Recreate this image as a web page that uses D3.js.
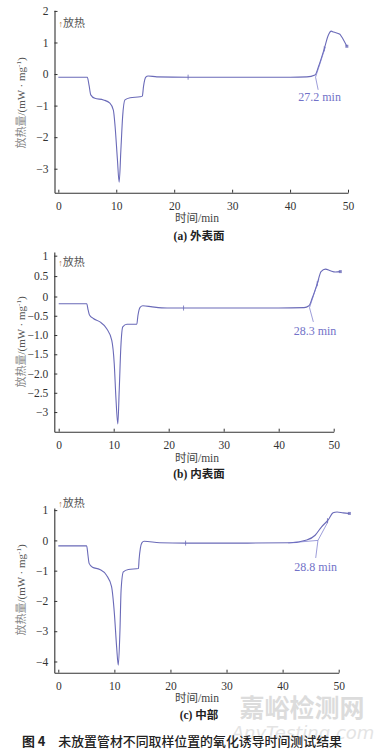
<!DOCTYPE html>
<html><head><meta charset="utf-8">
<script src="https://cdn.jsdelivr.net/npm/d3@7"></script>
<style>
html,body{margin:0;padding:0;background:#fff;}
svg{display:block;}
</style></head>
<body>
<svg id="c" width="384" height="751"></svg>
<script>
// ---- data ----
const xTicks = [0, 10, 20, 30, 40, 50];

const timeA = [0, 5.0, 5.3, 5.6, 6.3, 7.8, 8.9, 9.5, 9.8, 10.2, 10.5, 10.8, 11.1, 11.5, 12.4, 14.1, 14.5, 14.7, 15.1, 15.5, 17, 22.4, 30, 40, 42.9, 44.3, 44.9, 45.9, 46.6, 47.1, 47.5, 48.6, 48.9, 49.8];
const heatA = [-0.1, -0.1, -0.35, -0.66, -0.77, -0.82, -0.92, -1.14, -1.66, -2.71, -3.43, -2.4, -1.35, -0.82, -0.75, -0.72, -0.70, -0.4, -0.1, -0.06, -0.09, -0.1, -0.1, -0.1, -0.09, -0.03, 0.23, 0.8, 1.23, 1.36, 1.33, 1.26, 1.18, 0.88];
const yTicksA = [-3, -2, -1, 0, 1, 2];
const yLabelsA = ["−3", "−2", "−1", "0", "1", "2"];

const timeB = [0, 5.1, 5.35, 5.6, 6.3, 7.5, 8.7, 9.65, 10.1, 10.4, 10.75, 11.0, 11.3, 11.65, 12.4, 14.2, 14.4, 14.8, 15.3, 17, 19.7, 22.7, 30, 40, 44.6, 45.5, 46.1, 47.0, 47.7, 48.5, 49.4, 50.3, 51.2];
const heatB = [-0.19, -0.19, -0.35, -0.48, -0.57, -0.66, -0.83, -1.14, -1.75, -2.62, -3.31, -2.45, -1.31, -0.79, -0.72, -0.72, -0.5, -0.28, -0.24, -0.27, -0.3, -0.3, -0.3, -0.3, -0.29, -0.24, -0.04, 0.31, 0.61, 0.67, 0.63, 0.6, 0.61];
const yTicksB = [-3, -2.5, -2, -1.5, -1, -0.5, 0, 0.5, 1];
const yLabelsB = ["−3", "−2.5", "−2.0", "−1.5", "−1.0", "−0.5", "0", "0.5", "1"];

const timeC = [0, 5.06, 5.3, 5.5, 6.1, 7.4, 8.6, 9.5, 10.0, 10.4, 10.7, 11.0, 11.2, 11.6, 12.5, 14.3, 14.4, 14.9, 15.3, 18.1, 22.7, 30, 41.3, 44.3, 45.8, 46.95, 48.1, 49.0, 49.7, 50.8, 51.9];
const heatC = [-0.18, -0.18, -0.5, -0.76, -0.89, -0.96, -1.15, -1.53, -2.41, -3.51, -4.12, -2.96, -1.64, -1.04, -0.96, -0.93, -0.65, -0.08, -0.03, -0.08, -0.09, -0.09, -0.08, 0.01, 0.17, 0.45, 0.67, 0.91, 0.94, 0.91, 0.89];
const yTicksC = [-4, -3, -2, -1, 0, 1];
const yLabelsC = ["−4", "−3", "−2", "−1", "0", "1"];

// onset annotation: [onsetTime, onsetValue, tangentEndTime, tangentEndValue, leaderEndTime, leaderEndValue, labelTime, labelValue]
const onsetA = [44.4, -0.1, 46.1, 0.86, 44.85, -0.5, 45.1, -0.73];
const onsetB = [45.6, -0.29, 47.3, 0.42, 46.3, -0.66, 46.6, -0.89];
const onsetC = [46.3, 0.0, 48.1, 0.62, 45.9, -0.58, 45.9, -0.87];
const baseLineC = [41.0, -0.085];
const markTimes = { a: [22.4, 45.9], b: [22.7, 47.0], c: [22.7, 48.0] };
const onsetLabels = ["27.2 min", "28.3 min", "28.8 min"];
const panelTitles = ["(a) 外表面", "(b) 内表面", "(c) 中部"];
const figCaption = "图 4　未放置管材不同取样位置的氧化诱导时间测试结果";

// ---- drawing ----
const svg = d3.select("#c");
const serif = "\"Liberation Serif\", \"Times New Roman\", \"DejaVu Serif\", \"Noto Sans CJK SC\", serif";
const lineColor = "#6a6ab8";
const annColor = "#7272c8";

function panel(o) {
  const x = d3.scaleLinear().domain(o.xDom).range(o.xRange);
  const y = d3.scaleLinear().domain(o.yDom).range(o.yRange);
  const g = svg.append("g");
  const x0 = o.xRange[0], yBottom = o.yRange[0];

  const xAxis = d3.axisBottom(x).tickValues(xTicks).tickSizeInner(-3).tickSizeOuter(0).tickPadding(9);
  const gx = g.append("g").attr("transform", `translate(0,${yBottom})`).call(xAxis);
  const yAxis = d3.axisLeft(y).tickValues(o.yTicks).tickFormat((d, i) => o.yLabels[i]).tickSizeInner(-3).tickSizeOuter(0).tickPadding(6);
  const gy = g.append("g").attr("transform", `translate(${x0},0)`).call(yAxis);
  [gx, gy].forEach(a => {
    a.attr("font-family", null);
    a.select(".domain").attr("stroke", "#333").attr("stroke-width", 1.1);
    a.selectAll(".tick line").attr("stroke", "#333").attr("stroke-width", 1);
    a.selectAll(".tick text").attr("fill", "#333").attr("font-family", serif).style("font-family", serif).style("font-size", "11.5px");
  });

  const pts = o.t.map((t, i) => [t, o.v[i]]);
  const line = d3.line().x(d => x(d[0])).y(d => y(d[1])).curve(d3.curveMonotoneX);
  g.append("path").attr("d", line(pts)).attr("fill", "none").attr("stroke", lineColor).attr("stroke-width", 1.1);

  const interp = tt => { const i = d3.bisectLeft(o.t, tt); if (i <= 0) return o.v[0]; const t0 = o.t[i-1], t1 = o.t[i]; return o.v[i-1] + (o.v[i]-o.v[i-1]) * (tt - t0) / (t1 - t0); };
  o.marks.forEach(m => {
    const px = x(m), py = y(interp(m));
    g.append("line").attr("x1", px).attr("x2", px).attr("y1", py - 2.5).attr("y2", py + 2.5).attr("stroke", lineColor).attr("stroke-width", 0.8);
  });
  const last = pts[pts.length - 1];
  g.append("rect").attr("x", x(last[0]) - 1.5).attr("y", y(last[1]) - 1.5).attr("width", 3).attr("height", 3).attr("fill", lineColor).attr("opacity", 0.8);

  const a = o.onset;
  if (o.base) g.append("line").attr("x1", x(o.base[0])).attr("y1", y(o.base[1])).attr("x2", x(a[0])).attr("y2", y(a[1])).attr("stroke", annColor).attr("stroke-width", 0.7);
  g.append("line").attr("x1", x(a[0])).attr("y1", y(a[1])).attr("x2", x(a[2])).attr("y2", y(a[3])).attr("stroke", annColor).attr("stroke-width", 0.7);
  g.append("line").attr("x1", x(a[0])).attr("y1", y(a[1])).attr("x2", x(a[4])).attr("y2", y(a[5])).attr("stroke", annColor).attr("stroke-width", 0.7);
  g.append("text").attr("x", x(a[6])).attr("y", y(a[7])).attr("dy", "0.35em").attr("text-anchor", "middle")
    .attr("fill", annColor).style("font-family", serif).style("font-size", "12px").text(o.label);

  const ex = g.append("text").attr("x", x0 + 4).attr("y", o.exoY).attr("dy", "0.35em")
    .style("font-family", serif).style("font-size", "11px").attr("fill", "#555");
  ex.append("tspan").attr("fill", "#b07a40").style("font-size", "9px").text("↑");
  ex.append("tspan").text("放热");

  const yt = g.append("text").attr("transform", `translate(25,${o.yTitleY}) rotate(-90)`).attr("text-anchor", "middle")
    .style("font-family", serif).style("font-size", "11px");
  yt.append("tspan").attr("fill", "#888").text("放热量");
  yt.append("tspan").attr("fill", "#555").text("/(mW · mg");
  yt.append("tspan").attr("fill", "#555").attr("dy", "-4").style("font-size", "7px").text("-1");
  yt.append("tspan").attr("fill", "#555").attr("dy", "4").text(")");

  g.append("text").attr("x", 197).attr("y", o.xTitleY).attr("dy", "0.35em").attr("text-anchor", "middle")
    .attr("fill", "#444").style("font-family", serif).style("font-size", "11.5px").text("时间/min");
  g.append("text").attr("x", 199).attr("y", o.titleY).attr("dy", "0.35em").attr("text-anchor", "middle")
    .attr("fill", "#222").style("font-family", serif).style("font-size", "11.5px").style("font-weight", "bold").text(o.title);
}

// watermark (behind)
svg.append("text").attr("x", 302).attr("y", 708).attr("dy", "0.35em").attr("text-anchor", "middle")
  .attr("fill", "#dcdcdc").style("font-family", "'Noto Sans CJK SC',sans-serif").style("font-size", "25px").style("font-weight", "bold").text("嘉峪检测网");
svg.append("text").attr("x", 303).attr("y", 733).attr("dy", "0.35em").attr("text-anchor", "middle")
  .attr("fill", "#e4e4e4").style("font-family", "'DejaVu Sans',sans-serif").style("font-size", "18px").style("font-style", "italic").text("AnyTesting.com");

panel({ t: timeA, v: heatA, xDom: [-0.66, 50], xRange: [54.5, 348], yDom: [-3.76, 2.02], yRange: [192.7, 10.3],
  yTicks: yTicksA, yLabels: yLabelsA, onset: onsetA, marks: markTimes.a, label: onsetLabels[0], title: panelTitles[0],
  exoY: 23, yTitleY: 103, xTitleY: 218, titleY: 236 });
panel({ t: timeB, v: heatB, xDom: [-0.8, 50], xRange: [54.3, 333.7], yDom: [-3.51, 0, 1.09], yRange: [431.7, 296.5, 252],
  yTicks: yTicksB, yLabels: yLabelsB, onset: onsetB, marks: markTimes.b, label: onsetLabels[1], title: panelTitles[1],
  exoY: 262, yTitleY: 342, xTitleY: 457.5, titleY: 473.5 });
panel({ t: timeC, v: heatC, xDom: [-0.71, 50], xRange: [54.3, 338.7], yDom: [-4.37, 1.07], yRange: [672.7, 508],
  yTicks: yTicksC, yLabels: yLabelsC, onset: onsetC, base: baseLineC, marks: markTimes.c, label: onsetLabels[2], title: panelTitles[2],
  exoY: 503, yTitleY: 590, xTitleY: 698, titleY: 715 });

const cap = svg.append("text").attr("x", 22).attr("y", 741.5).attr("dy", "0.35em")
  .style("font-family", "'Noto Sans CJK SC',sans-serif").style("font-size", "12.9px").attr("fill", "#222");
cap.append("tspan").style("font-weight", "bold").text(figCaption.slice(0, 3));
cap.append("tspan").style("font-weight", "500").text(figCaption.slice(3));
</script>
</body></html>
